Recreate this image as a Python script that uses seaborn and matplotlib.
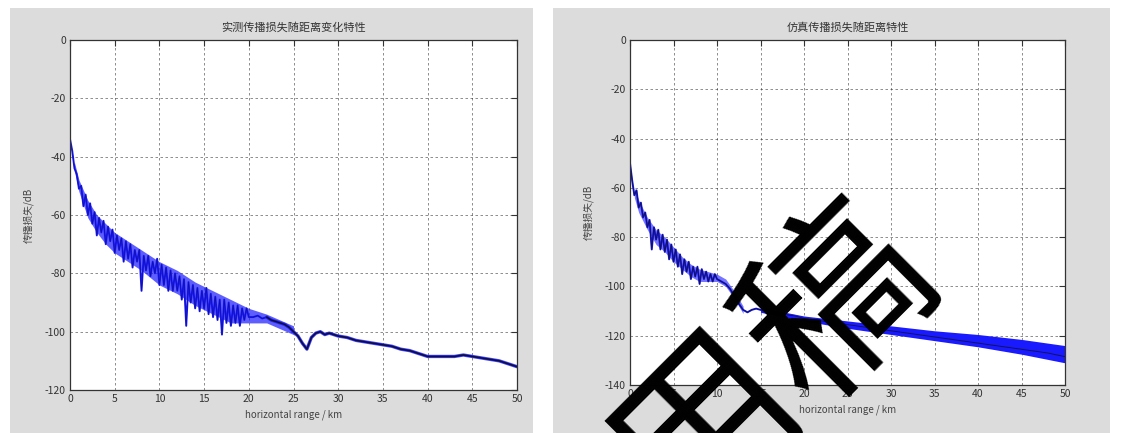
import matplotlib
matplotlib.use('Agg')
import matplotlib.pyplot as plt
import seaborn as sns
import pandas as pd
from matplotlib.patches import Rectangle

# ---- data (range in km, transmission loss in dB) ----
left_x = [0, 0.25, 0.5, 0.75, 1.0, 1.25, 1.5, 1.75, 2.0, 2.25, 2.5, 2.75,
          3.0, 3.25, 3.5, 3.75, 4.0, 4.25, 4.5, 4.75, 5.0, 5.25, 5.5, 5.75,
          6.0, 6.25, 6.5, 6.75, 7.0, 7.25, 7.5, 7.75, 8.0, 8.25, 8.5, 8.75,
          9.0, 9.25, 9.5, 9.75, 10.0, 10.25, 10.5, 10.75, 11.0, 11.25, 11.5, 11.75,
          12.0, 12.25, 12.5, 12.75, 13.0, 13.25, 13.5, 13.75, 14.0, 14.25, 14.5, 14.75,
          15.0, 15.25, 15.5, 15.75, 16.0, 16.25, 16.5, 16.75, 17.0, 17.25, 17.5, 17.75,
          18.0, 18.25, 18.5, 18.75, 19.0, 19.25, 19.5, 19.75, 20.0,
          20.5, 21, 21.5, 22, 22.5, 23, 23.5, 24, 24.5, 25, 25.5, 26, 26.5, 27,
          27.5, 28, 28.5, 29, 29.5, 30, 31, 32, 33, 34, 35, 36, 37, 38, 39, 40,
          41, 42, 43, 44, 45, 46, 47, 48, 49, 50]
left_tl = [-34, -38, -44, -46, -51, -50, -57, -53, -60, -56, -63, -59,
           -67, -61, -66, -62, -70, -64, -69, -65, -73, -67, -72, -68,
           -76, -69, -75, -70, -78, -72, -76, -72, -86, -74, -79, -74,
           -81, -76, -80, -75, -84, -77, -84, -78, -86, -79, -86, -80,
           -86, -81, -89, -82, -98, -83, -90, -84, -92, -85, -93, -86,
           -92, -85, -94, -87, -95, -88, -96, -89, -101, -89, -97, -90,
           -98, -91, -97, -91, -98, -92, -96, -92, -95,
           -95, -94.5, -95.5, -95, -96, -96.5, -97, -97.5, -98.5, -100, -101.5, -104, -106, -102,
           -100.5, -100, -101, -100.5, -101, -101.5, -102, -103, -103.5, -104, -104.5, -105, -106, -106.5, -107.5, -108.5,
           -108.5, -108.5, -108.5, -108, -108.5, -109, -109.5, -110, -111, -112]

# envelope of the dense noisy part of the left curve
left_band_x = [0.5, 1, 2, 3, 4, 5, 6, 8, 10, 12, 14, 16, 18, 20, 22, 25]
left_band_hi = [-42, -48, -55, -60, -63, -66, -68, -72, -76, -79, -83, -86, -89, -92, -94, -98]
left_band_lo = [-45, -52, -61, -66, -70, -73, -75, -79, -84, -87, -91, -94, -97, -97, -97, -101]

right_x = [0, 0.25, 0.5, 0.75, 1.0, 1.25, 1.5, 1.75, 2.0, 2.25, 2.5, 2.75,
           3.0, 3.25, 3.5, 3.75, 4.0, 4.25, 4.5, 4.75, 5.0, 5.25, 5.5, 5.75,
           6.0, 6.25, 6.5, 6.75, 7.0, 7.25, 7.5, 7.75, 8.0, 8.25, 8.5, 8.75,
           9.0, 9.25, 9.5, 9.75, 10.0,
           10.5, 11, 11.5, 12, 12.5, 13, 13.5, 14, 14.5, 15, 16, 17, 18, 19, 20,
           21, 22, 23, 24, 25, 26, 27, 28, 29, 30, 32, 34, 36, 38, 40,
           42, 44, 46, 48, 50]
right_tl = [-50, -57, -63, -61, -68, -66, -72, -70, -76, -73, -85, -76,
            -81, -77, -85, -79, -86, -81, -89, -83, -90, -85, -92, -87,
            -95, -89, -94, -90, -97, -92, -96, -92, -99, -93, -97, -94,
            -98, -95, -98, -95, -97,
            -98, -99, -101, -104, -107, -109.5, -110.5, -109.5, -109, -109.5, -110.5, -111, -111.5, -112, -113,
            -113.5, -114, -114.5, -115, -115.5, -116, -116.5, -117, -117.5, -118, -119, -120, -121, -122, -123,
            -124, -125, -126, -127, -128.5]

# envelope of the noisy start and of the thick far part of the right curve
right_band_x = [0.5, 1, 2, 3, 4, 5, 6, 7, 8, 9, 10, 11, 12, 13]
right_band_hi = [-60, -65, -72, -77, -80, -84, -88, -91, -93, -94, -95, -97, -102, -108]
right_band_lo = [-64, -70, -77, -83, -86, -90, -93, -96, -98, -98, -98, -100, -105, -111]
tail_band_x = [15, 20, 25, 30, 35, 40, 45, 50]
tail_band_hi = [-108.5, -112, -114, -116, -118, -119.5, -121.5, -124]
tail_band_lo = [-110.5, -114, -117, -119.5, -122, -124.5, -127.5, -131]

titles = ['实测传播损失随距离变化特性', '仿真传播损失随距离特性']
x_label = 'horizontal range / km'
y_label = '传播损失/dB'
x_ticks = [0, 5, 10, 15, 20, 25, 30, 35, 40, 45, 50]
left_yticks = [0, -20, -40, -60, -80, -100, -120]
right_yticks = [0, -20, -40, -60, -80, -100, -120, -140]
watermark = '用稿'

sns.set_style('white')
plt.rcParams['font.family'] = ['Noto Sans CJK SC', 'DejaVu Sans']
plt.rcParams['axes.unicode_minus'] = False

fig = plt.figure(figsize=(11.21, 4.33), dpi=100)
fig.patch.set_facecolor('white')

# grey figure backgrounds of the two screenshots
W, H = 1121, 433
for x0, x1 in [(10, 533), (553, 1110)]:
    fig.patches.append(Rectangle((x0 / W, 0), (x1 - x0) / W, 1 - 8 / H,
                                 transform=fig.transFigure, facecolor='#dcdcdc',
                                 edgecolor='none', zorder=-5))

ax1 = fig.add_axes([70 / W, 1 - 390 / H, 447 / W, 350 / H])
ax2 = fig.add_axes([630 / W, 1 - 385 / H, 435 / W, 345 / H])

left_df = pd.DataFrame({'range': left_x, 'tl': left_tl})
right_df = pd.DataFrame({'range': right_x, 'tl': right_tl})
left_tail = left_df[left_df['range'] >= 22]

BLUE = '#1a1aff'
ax1.fill_between(left_band_x, left_band_lo, left_band_hi, color=BLUE, lw=0, alpha=0.7)
sns.lineplot(data=left_df, x='range', y='tl', ax=ax1, color=BLUE, lw=1.4,
             sort=False, estimator=None)
sns.lineplot(data=left_df, x='range', y='tl', ax=ax1, color='#0a0a60', lw=0.5,
             sort=False, estimator=None, alpha=0.6)
sns.lineplot(data=left_tail, x='range', y='tl', ax=ax1, color=BLUE, lw=2.4,
             sort=False, estimator=None, alpha=0.8)
sns.lineplot(data=left_tail, x='range', y='tl', ax=ax1, color='#111122', lw=1.0,
             sort=False, estimator=None)

ax2.fill_between(right_band_x, right_band_lo, right_band_hi, color=BLUE, lw=0, alpha=0.6)
ax2.fill_between(tail_band_x, tail_band_lo, tail_band_hi, color=BLUE, lw=0)
sns.lineplot(data=right_df, x='range', y='tl', ax=ax2, color=BLUE, lw=1.4,
             sort=False, estimator=None)
sns.lineplot(data=right_df, x='range', y='tl', ax=ax2, color='#101030', lw=0.7,
             sort=False, estimator=None, alpha=0.8)

for ax, title, yt in [(ax1, titles[0], left_yticks), (ax2, titles[1], right_yticks)]:
    ax.set_facecolor('white')
    ax.set_xlim(0, 50)
    ax.set_ylim(min(yt), max(yt))
    ax.set_xticks(x_ticks)
    ax.set_yticks(yt)
    ax.set_xticklabels([str(t) for t in x_ticks])
    ax.set_yticklabels(['%d' % t if t == 0 else '-%d' % abs(t) for t in yt])
    ax.grid(True, color='#222222', linestyle=(0, (3, 3)), lw=0.6, alpha=0.6)
    ax.tick_params(direction='in', length=4, width=0.8, labelsize=7.5,
                   colors='#333333', top=True, right=True, pad=3)
    for sp in ax.spines.values():
        sp.set_color('#333333')
        sp.set_linewidth(0.9)
    ax.set_title(title, fontsize=8, color='#333333', pad=7)
    ax.set_xlabel(x_label, fontsize=7, color='#444444', labelpad=4)
    ax.set_ylabel(y_label, fontsize=7, color='#444444', labelpad=8)

# diagonal watermark
fig.text(776 / W, 1 - 370 / H, watermark, fontsize=132, fontweight='normal',
         color='black', rotation=45, rotation_mode='anchor',
         ha='center', va='center', family=['Noto Sans CJK SC', 'DejaVu Sans'],
         zorder=10)

fig.savefig('out.png', dpi=100)
